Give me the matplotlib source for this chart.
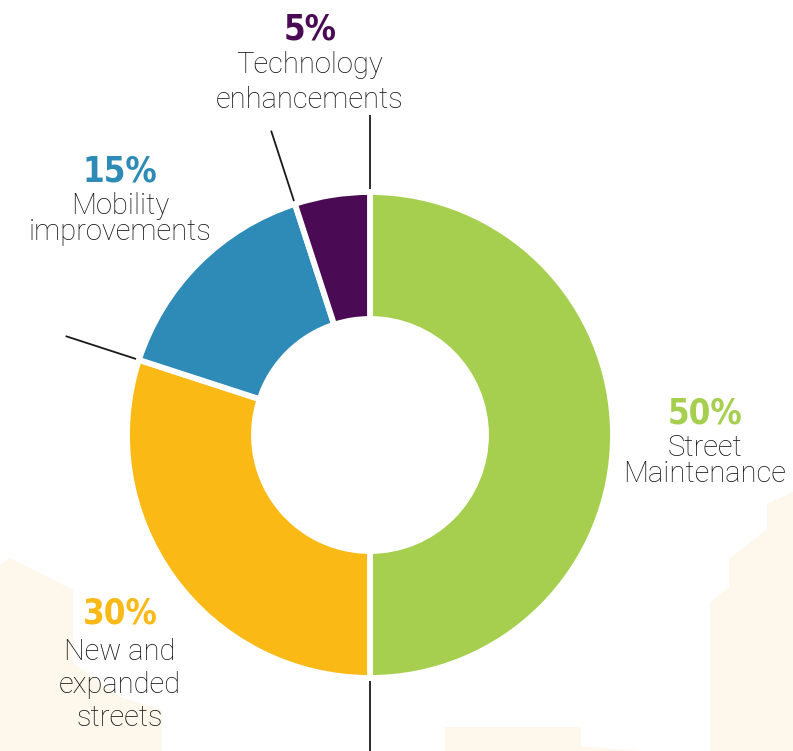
import numpy as np
import matplotlib.pyplot as plt
from matplotlib.patches import Polygon

# data
categories = ["Street\nMaintenance", "New and\nexpanded\nstreets", "Mobility\nimprovements", "Technology\nenhancements"]
shares = [50, 30, 15, 5]
colors = ["#A6CF4F", "#FBB916", "#2E8AB6", "#4A0B54"]

W, H = 793, 751
cx, cy = 370, H - 435
r_out, r_in = 243, 116

fig = plt.figure(figsize=(W / 100, H / 100), dpi=100)
ax = fig.add_axes([0, 0, 1, 1])

# background building silhouettes (decoration)
cream = "#FEF7EB"
bldgs = [
    [(0, 565), (10, 558), (73, 590), (73, 663), (120, 697), (162, 710), (162, 751), (0, 751)],
    [(793, 492), (767, 504), (767, 529), (729, 559), (729, 587), (710, 602), (710, 751), (793, 751)],
    [(445, 727), (581, 727), (581, 746), (640, 751), (445, 751)],
]
for pts in bldgs:
    ax.add_patch(Polygon([(x, H - y) for x, y in pts], closed=True, color=cream, lw=0, zorder=0))

ax.pie(shares, colors=colors, startangle=90, counterclock=False, radius=r_out,
       center=(cx, cy), frame=True,
       wedgeprops=dict(width=r_out - r_in, edgecolor="white", linewidth=4.2))

# leader lines along wedge boundaries
cum = np.cumsum([0] + shares)
for c in [cum[1], cum[2], cum[3], cum[4]]:
    a = np.deg2rad(90 - 360 * c / 100)
    r1, r2 = 246, 320
    ax.plot([cx + r1 * np.cos(a), cx + r2 * np.cos(a)],
            [cy + r1 * np.sin(a), cy + r2 * np.sin(a)],
            color="#1a1a1a", lw=1.3, zorder=3, solid_capstyle="butt")

pct_font = dict(family=["DejaVu Sans"], fontstretch="condensed", fontweight="bold",
                fontsize=25, ha="center", va="baseline")
txt_font = dict(family=["Roboto", "DejaVu Sans"], fontweight="light", fontsize=21,
                ha="center", va="baseline", color="#111111", multialignment="center")

# label layout: (x, percent baseline, last line baseline, linespacing)
layout = [
    (705, 423, 482, 0.92),
    (120, 623, 726, 1.23),
    (120, 182, 240, 0.93),
    (310, 39, 108, 1.3),
]
for i, (x, pb, lb, ls) in enumerate(layout):
    ax.text(x, H - pb, f"{shares[i]}%", color=colors[i], **pct_font)
    ax.text(x, H - lb, categories[i], linespacing=ls, **txt_font)

ax.set_xlim(0, W)
ax.set_ylim(0, H)
ax.set_aspect("equal")
ax.axis("off")
fig.savefig("out.png", dpi=100)
